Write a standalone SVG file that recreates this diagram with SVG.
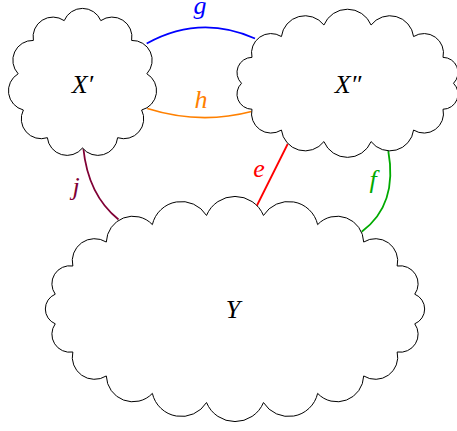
<svg xmlns="http://www.w3.org/2000/svg" width="457" height="431" viewBox="0 0 457 431">
<style>
.cloud{fill:#fff;stroke:#000;stroke-width:1}
.lbl{font-family:"Liberation Serif","Times New Roman",serif;font-style:italic;font-size:26px;text-anchor:middle}
.edge{fill:none;stroke-width:1.8}
</style>
<rect width="457" height="431" fill="#fff"/>
<g id="connectors">
<path id="g-edge" class="edge" stroke="#0000ff" d="M146.7,43.5 Q200,14 255,38.5"/>
<path id="h-edge" class="edge" stroke="#ff8000" d="M147.3,108.5 Q200,125 251.5,111.5"/>
<path id="j-edge" class="edge" stroke="#800035" d="M83.3,148 Q88,195 118.5,219.5"/>
<path id="e-edge" class="edge" stroke="#ff0000" d="M287.7,144 L256.7,206"/>
<path id="f-edge" class="edge" stroke="#00aa00" d="M388.3,151 Q398,205 361.7,231.7"/>
<text class="lbl" x="200" y="14" fill="#0000ff">g</text>
<text class="lbl" x="201" y="107.5" fill="#ff8000">h</text>
<text class="lbl" x="76" y="195" fill="#800035">j</text>
<text class="lbl" x="259" y="177" fill="#ff0000">e</text>
<text class="lbl" x="373" y="188" fill="#00aa00">f</text>
</g>
<g id="Xp">
<path class="cloud" d="M82.5,148 A19.82,19.82 0 0 0 117.64,137.68 A19.82,19.82 0 0 0 141.63,110 A19.82,19.82 0 0 0 146.84,73.75 A19.82,19.82 0 0 0 131.62,40.43 A19.82,19.82 0 0 0 100.81,20.63 A19.82,19.82 0 0 0 64.19,20.63 A19.82,19.82 0 0 0 33.38,40.43 A19.82,19.82 0 0 0 18.16,73.75 A19.82,19.82 0 0 0 23.37,110 A19.82,19.82 0 0 0 47.36,137.68 A19.82,19.82 0 0 0 82.5,148 Z"/>
<text class="lbl" x="82.5" y="93">X′</text>
</g>
<g id="Xpp">
<path class="cloud" d="M453.5,83.3 A15.15,15.15 0 0 0 443.01,57.35 A19.5,19.5 0 0 0 413.59,36.55 A23.84,23.84 0 0 0 371.09,25 A25.53,25.53 0 0 0 323.91,25 A23.84,23.84 0 0 0 281.41,36.55 A19.5,19.5 0 0 0 251.99,57.35 A15.15,15.15 0 0 0 241.5,83.3 A15.15,15.15 0 0 0 251.99,109.25 A19.5,19.5 0 0 0 281.41,130.05 A23.84,23.84 0 0 0 323.91,141.6 A25.53,25.53 0 0 0 371.09,141.6 A23.84,23.84 0 0 0 413.59,130.05 A19.5,19.5 0 0 0 443.01,109.25 A15.15,15.15 0 0 0 453.5,83.3 Z"/>
<text class="lbl" x="348" y="93">X″</text>
</g>
<g id="Y">
<path class="cloud" d="M414.76,323.81 A16.03,16.03 0 0 0 414.76,294.19 A17.98,17.98 0 0 0 397.16,266.01 A22.28,22.28 0 0 0 363.69,242.04 A26.65,26.65 0 0 0 317.63,224.62 A29.73,29.73 0 0 0 263.47,215.46 A30.81,30.81 0 0 0 206.53,215.46 A29.73,29.73 0 0 0 152.37,224.62 A26.65,26.65 0 0 0 106.31,242.04 A22.28,22.28 0 0 0 72.84,266.01 A17.98,17.98 0 0 0 55.24,294.19 A16.03,16.03 0 0 0 55.24,323.81 A17.98,17.98 0 0 0 72.84,351.99 A22.28,22.28 0 0 0 106.31,375.96 A26.65,26.65 0 0 0 152.37,393.38 A29.73,29.73 0 0 0 206.53,402.54 A30.81,30.81 0 0 0 263.47,402.54 A29.73,29.73 0 0 0 317.63,393.38 A26.65,26.65 0 0 0 363.69,375.96 A22.28,22.28 0 0 0 397.16,351.99 A17.98,17.98 0 0 0 414.76,323.81 Z"/>
<text class="lbl" x="233" y="318">Y</text>
</g>
</svg>
